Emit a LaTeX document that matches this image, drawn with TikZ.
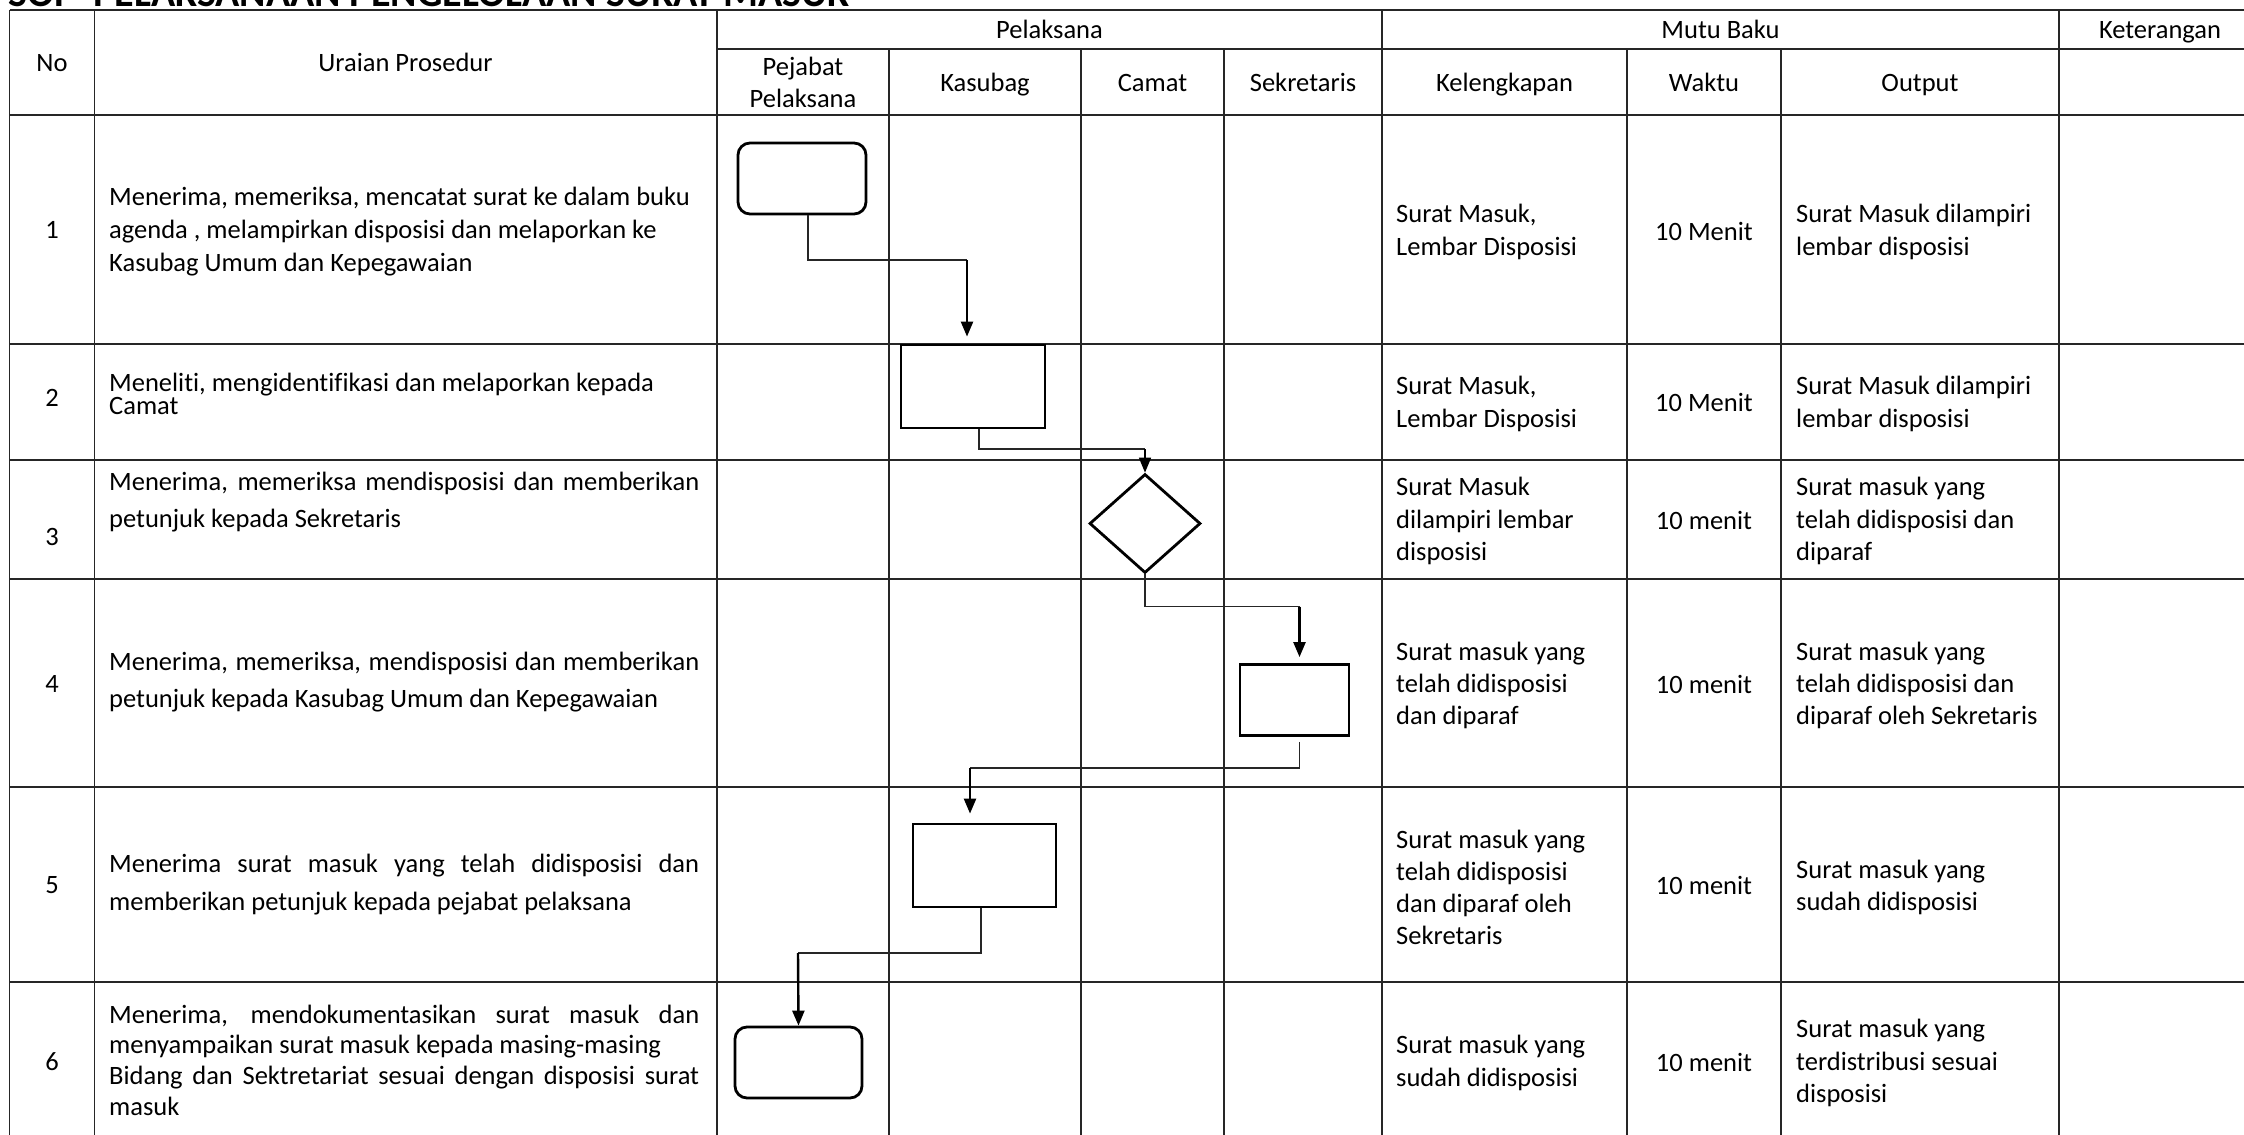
\documentclass[tikz,border=0pt]{standalone}
\usepackage{fontspec}
\setmainfont{Carlito}[Ligatures=NoCommon]
\usetikzlibrary{arrows.meta,shapes.geometric}
\begin{document}
\begin{tikzpicture}[x=1pt,y=-1pt,
  grid/.style={draw=black!85,line width=1.6pt},
  txt/.style={font=\fontsize{26.5}{33}\selectfont,inner sep=0pt,align=left},
  ctxt/.style={font=\fontsize{26.5}{32}\selectfont,inner sep=0pt,align=center},
  one/.style={ctxt,text height=17pt,text depth=0pt},
  shp/.style={draw=black,line width=2.8pt,inner sep=0pt,fill=white},
  thinc/.style={draw=black!85,line width=1.3pt},
  arr/.style={draw=black,line width=2.4pt,-{Triangle[length=15pt,width=12pt]}},
]
\useasboundingbox (0,0) rectangle (2244,1135);
\clip (0,0) rectangle (2244,1135);

% title (cut at top)
\node[font=\fontsize{40}{46}\selectfont\bfseries,inner sep=0pt,anchor=base west] (title) at (8,6) {SOP\ \ PELAKSANAAN PENGELOLAAN SURAT MASUK};

% grid
\draw[grid] (9.5,10) -- (2244,10);
\draw[grid] (717,49) -- (2244,49);
\foreach \y in {115,344,460,579,787,982} \draw[grid] (9.5,\y) -- (2244,\y);
\foreach \x in {9.5,94.5,717,1382,2059} \draw[grid] (\x,10) -- (\x,1135);
\foreach \x in {889,1081,1224,1627,1781} \draw[grid] (\x,49) -- (\x,1135);

% header
\node[one] (hno) at (52,63) {No};
\node[one] (hur) at (405.5,63) {Uraian Prosedur};
\node[one] (hpl) at (1049.5,29.5) {Pelaksana};
\node[one] (hmb) at (1720.5,29.5) {Mutu Baku};
\node[one] (hket) at (2160,29.5) {Keterangan};
\node[ctxt] (hpj) at (803,82) {Pejabat\\Pelaksana};
\node[one] (hks) at (985,83) {Kasubag};
\node[one] (hcm) at (1152.5,83) {Camat};
\node[one] (hsk) at (1303,83) {Sekretaris};
\node[one] (hkl) at (1504.5,83) {Kelengkapan};
\node[one] (hwk) at (1704,83) {Waktu};
\node[one] (hout) at (1920,83) {Output};

% numbers
\node[one] (n1) at (52,230) {1};
\node[one] (n2) at (52,398) {2};
\node[one] (n3) at (52,537) {3};
\node[one] (n4) at (52,684) {4};
\node[one] (n5) at (52,885) {5};
\node[one] (n6) at (52,1062) {6};

% uraian
\node[txt,anchor=west] (u1) at (109,232) {Menerima, memeriksa, mencatat surat ke dalam buku\\agenda , melampirkan disposisi dan melaporkan ke\\Kasubag Umum dan Kepegawaian};
\node[txt,anchor=west,font=\fontsize{26.5}{23}\selectfont] (u2) at (109,394) {Meneliti, mengidentifikasi dan melaporkan kepada\\Camat};
\node[txt,anchor=west,font=\fontsize{26.5}{37}\selectfont] (u3) at (109,502) {\makebox[590pt][s]{Menerima, memeriksa mendisposisi dan memberikan}\\petunjuk kepada Sekretaris};
\node[txt,anchor=west,font=\fontsize{26.5}{37}\selectfont] (u4) at (109,682) {\makebox[590pt][s]{Menerima, memeriksa, mendisposisi dan memberikan}\\petunjuk kepada Kasubag Umum dan Kepegawaian};
\node[txt,anchor=west,font=\fontsize{26.5}{38}\selectfont] (u5) at (109,885) {\makebox[590pt][s]{Menerima surat masuk yang telah didisposisi dan}\\memberikan petunjuk kepada pejabat pelaksana};
\node[txt,anchor=west,font=\fontsize{26.5}{30.7}\selectfont] (u6) at (109,1060) {\makebox[590pt][s]{Menerima, mendokumentasikan surat masuk dan}\\menyampaikan surat masuk kepada masing-masing\\\makebox[590pt][s]{Bidang dan Sektretariat sesuai dengan disposisi surat}\\masuk};

% kelengkapan
\node[txt,anchor=west] (k1t) at (1396,232) {Surat Masuk,\\Lembar Disposisi};
\node[txt,anchor=west] (k2t) at (1396,404) {Surat Masuk,\\Lembar Disposisi};
\node[txt,anchor=west,font=\fontsize{26.5}{32.5}\selectfont] (k3t) at (1396,521) {Surat Masuk\\dilampiri lembar\\disposisi};
\node[txt,anchor=west,font=\fontsize{26.5}{32}\selectfont] (k4t) at (1396,685) {Surat masuk yang\\telah didisposisi\\dan diparaf};
\node[txt,anchor=west,font=\fontsize{26.5}{32}\selectfont] (k5t) at (1396,887) {Surat masuk yang\\telah didisposisi\\dan diparaf oleh\\Sekretaris};
\node[txt,anchor=west,font=\fontsize{26.5}{32.5}\selectfont] (k6t) at (1396,1063) {Surat masuk yang\\sudah didisposisi};

% waktu
\node[one] (w1) at (1704,232) {10 Menit};
\node[one] (w2) at (1704,403) {10 Menit};
\node[one] (w3) at (1704,521) {10 menit};
\node[one] (w4) at (1704,685) {10 menit};
\node[one] (w5) at (1704,886) {10 menit};
\node[one] (w6) at (1704,1063) {10 menit};

% output
\node[txt,anchor=west] (o1) at (1796,232) {Surat Masuk dilampiri\\lembar disposisi};
\node[txt,anchor=west] (o2) at (1796,404) {Surat Masuk dilampiri\\lembar disposisi};
\node[txt,anchor=west,font=\fontsize{26.5}{32.5}\selectfont] (o3) at (1796,521) {Surat masuk yang\\telah didisposisi dan\\diparaf};
\node[txt,anchor=west,font=\fontsize{26.5}{32}\selectfont] (o4) at (1796,685) {Surat masuk yang\\telah didisposisi dan\\diparaf oleh Sekretaris};
\node[txt,anchor=west,font=\fontsize{26.5}{32}\selectfont] (o5) at (1796,887) {Surat masuk yang\\sudah didisposisi};
\node[txt,anchor=west,font=\fontsize{26.5}{32.5}\selectfont] (o6) at (1796,1063) {Surat masuk yang\\terdistribusi sesuai\\disposisi};

% flow shapes
\node[shp,rounded corners=12pt,minimum width=128pt,minimum height=71pt] (b1) at (802,178.5) {};
\node[shp,minimum width=144pt,minimum height=83pt] (b2) at (973,386.5) {};
\node[shp,diamond,minimum width=111pt,minimum height=99pt] (d3) at (1145,523.5) {};
\node[shp,minimum width=109pt,minimum height=71pt] (b4) at (1294.5,700) {};
\node[shp,minimum width=143pt,minimum height=83pt] (b5) at (984.5,865.5) {};
\node[shp,rounded corners=12pt,minimum width=127pt,minimum height=71pt] (b6) at (798.5,1062.5) {};

% connectors
\coordinate (k1) at (967,260);
\coordinate (k2) at (1145,449);
\coordinate (k3) at (1299.5,606.5);
\coordinate (k4) at (970,768);
\coordinate (k5) at (798,953);
\draw[thinc] ([xshift=6pt]b1.south) |- (k1);
\draw[arr,shorten >=7pt] (k1) -- ([xshift=-6pt]b2.north);
\draw[thinc] ([xshift=6pt]b2.south) |- (k2);
\draw[arr,line width=1.6pt] (k2) -- (d3.north);
\draw[thinc] (d3.south) |- (k3);
\draw[arr,shorten >=6pt] (k3) -- ([xshift=5pt]b4.north);
\draw[thinc] ([xshift=5pt,yshift=-5pt]b4.south) |- (k4);
\draw[arr,shorten >=9pt] (k4) -- ([xshift=-14.5pt]b5.north);
\draw[thinc] ([xshift=-3.5pt]b5.south) |- (k5);
\draw[arr] (k5) -- (b6.north);
\end{tikzpicture}
\end{document}
